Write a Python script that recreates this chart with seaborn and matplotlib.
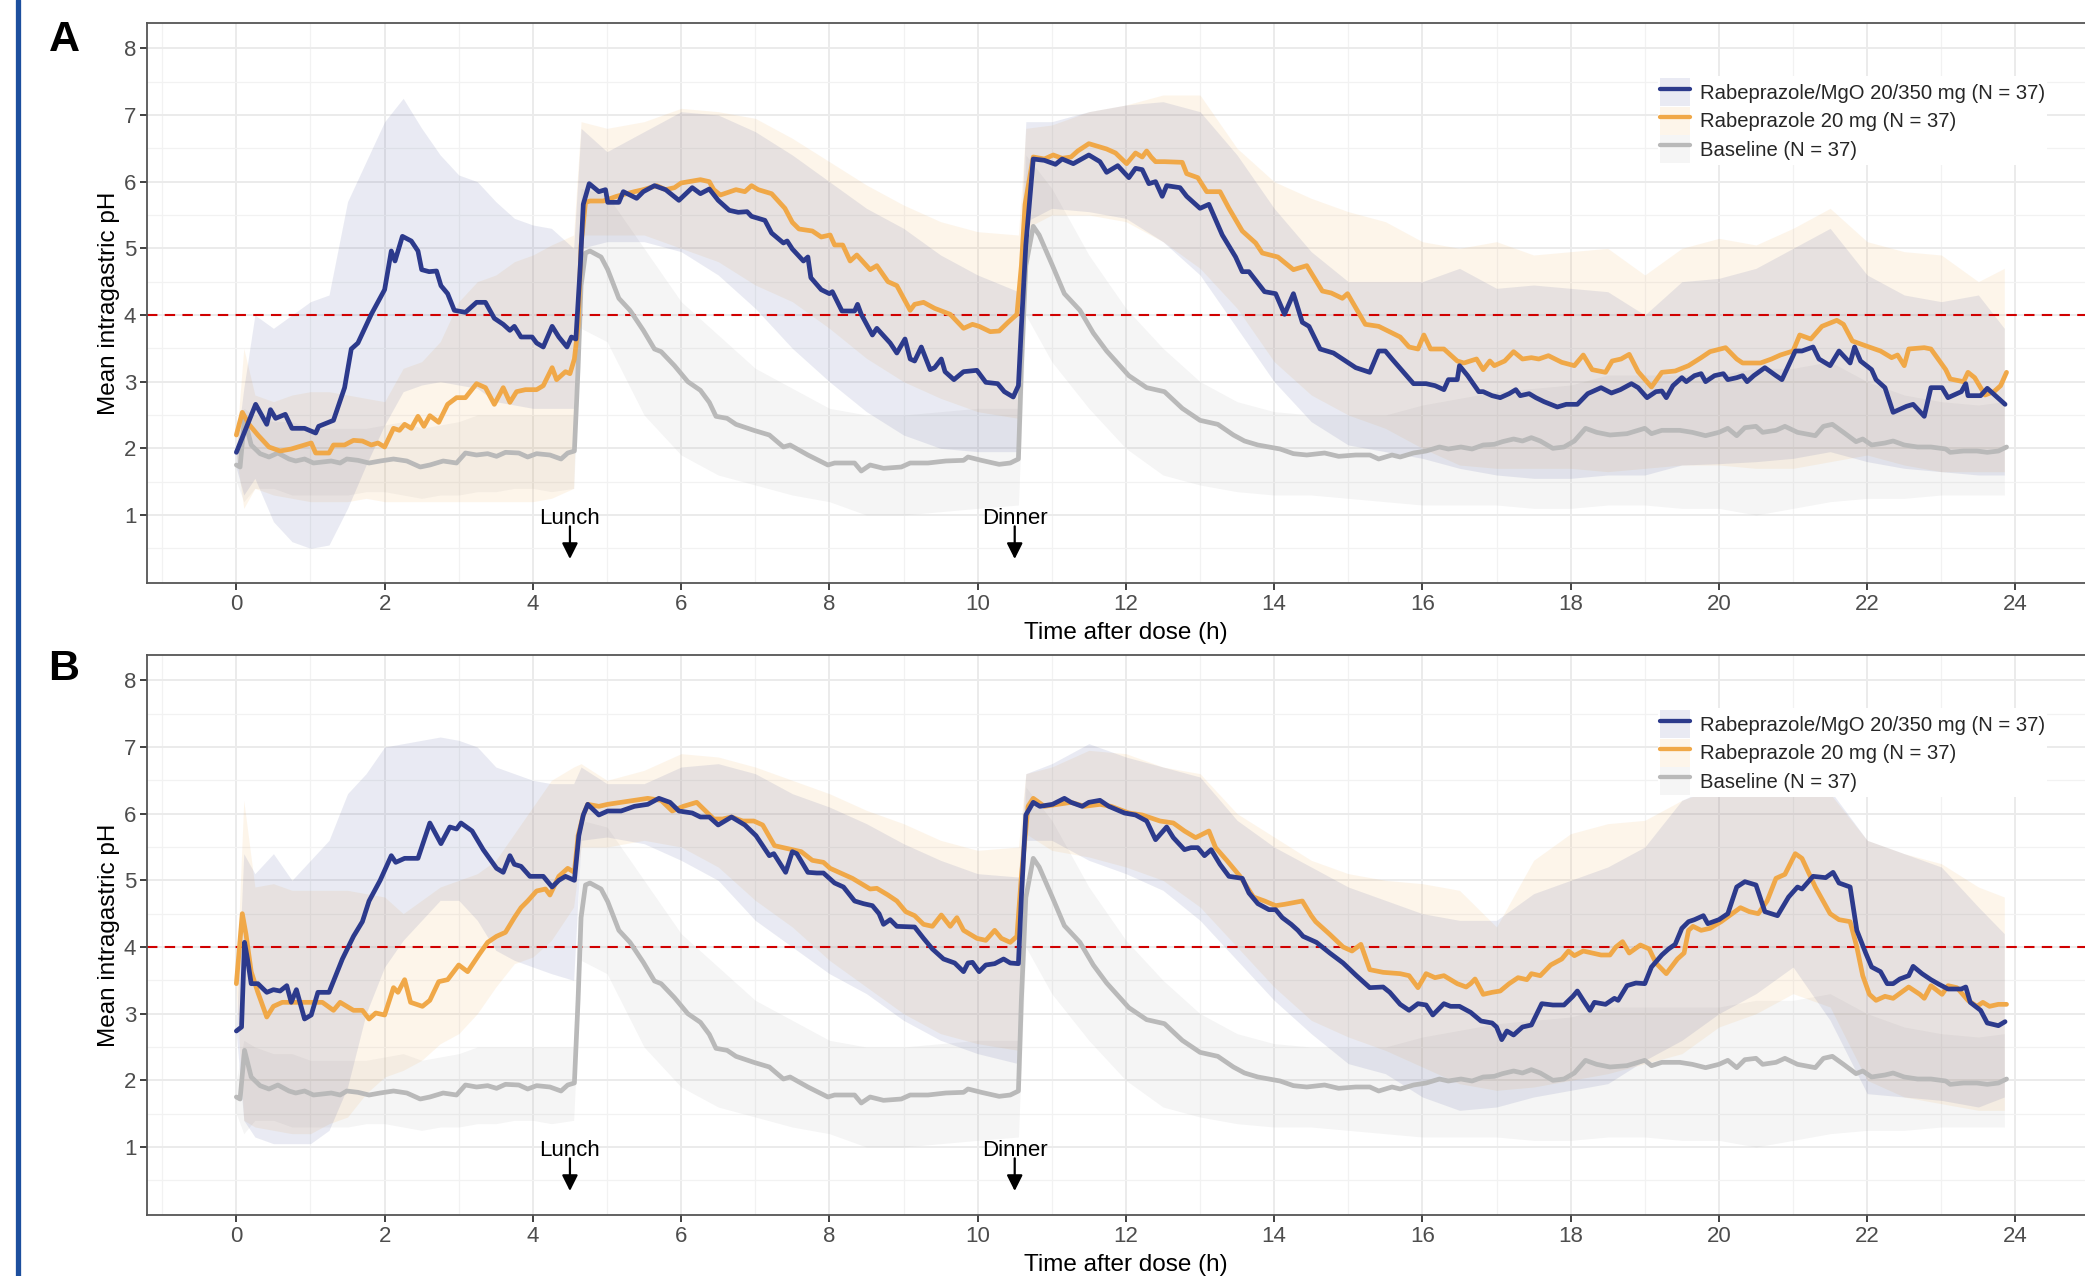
import numpy as np
import pandas as pd
import matplotlib
matplotlib.use('Agg')
import matplotlib.pyplot as plt
import seaborn as sns
from matplotlib.patches import Patch
from matplotlib.lines import Line2D
from matplotlib.legend_handler import HandlerTuple

# ---------------- data ----------------
# baseline curve is the same in both panels
base_t = [0, 0.05, 0.11, 0.20, 0.32, 0.44, 0.56, 0.71, 0.80, 0.92,
          1.04, 1.28, 1.40, 1.49, 1.64, 1.79, 1.94, 2.12, 2.30, 2.48,
          2.61, 2.79, 2.97, 3.09, 3.24, 3.39, 3.51, 3.63, 3.81, 3.93,
          4.05, 4.23, 4.38, 4.47, 4.56, 4.61, 4.65, 4.71, 4.77, 4.92,
          5.01, 5.16, 5.31, 5.49, 5.64, 5.73, 5.91, 6.09, 6.26, 6.38,
          6.47, 6.62, 6.74, 6.98, 7.19, 7.38, 7.47, 7.71, 7.98, 8.07,
          8.34, 8.43, 8.55, 8.73, 8.97, 9.09, 9.33, 9.57, 9.81, 9.87,
          10.05, 10.29, 10.44, 10.55, 10.59, 10.65, 10.75, 10.83, 11.01, 11.17,
          11.38, 11.56, 11.74, 12.04, 12.28, 12.52, 12.76, 13.00, 13.24, 13.45,
          13.60, 13.78, 14.08, 14.26, 14.44, 14.68, 14.87, 15.10, 15.29, 15.41,
          15.59, 15.70, 15.88, 16.05, 16.23, 16.35, 16.52, 16.67, 16.82, 16.97,
          17.08, 17.23, 17.35, 17.47, 17.59, 17.76, 17.91, 18.05, 18.20, 18.35,
          18.53, 18.76, 18.91, 19.00, 19.09, 19.23, 19.47, 19.64, 19.82, 20.00,
          20.12, 20.24, 20.35, 20.50, 20.59, 20.77, 20.89, 21.06, 21.30, 21.41,
          21.53, 21.68, 21.85, 21.94, 22.06, 22.24, 22.35, 22.50, 22.68, 22.86,
          23.06, 23.12, 23.30, 23.48, 23.62, 23.77, 23.88]
base_ph = [1.75, 1.72, 2.45, 2.05, 1.92, 1.87, 1.93, 1.84, 1.81, 1.84,
           1.78, 1.81, 1.78, 1.84, 1.82, 1.78, 1.81, 1.84, 1.81, 1.72,
           1.75, 1.81, 1.78, 1.93, 1.90, 1.92, 1.88, 1.94, 1.93, 1.87,
           1.92, 1.90, 1.84, 1.93, 1.96, 3.21, 4.44, 4.93, 4.96, 4.87,
           4.68, 4.25, 4.07, 3.77, 3.49, 3.45, 3.24, 3.00, 2.87, 2.69,
           2.48, 2.45, 2.36, 2.27, 2.20, 2.02, 2.05, 1.90, 1.75, 1.78,
           1.78, 1.66, 1.75, 1.70, 1.72, 1.78, 1.78, 1.81, 1.82, 1.87,
           1.82, 1.76, 1.78, 1.84, 3.21, 4.74, 5.33, 5.20, 4.74, 4.32,
           4.07, 3.73, 3.46, 3.09, 2.91, 2.85, 2.60, 2.42, 2.36, 2.20,
           2.11, 2.05, 1.99, 1.92, 1.90, 1.93, 1.88, 1.90, 1.90, 1.84,
           1.90, 1.87, 1.93, 1.96, 2.02, 1.99, 2.02, 1.99, 2.05, 2.06,
           2.10, 2.14, 2.11, 2.16, 2.11, 2.00, 2.02, 2.11, 2.30, 2.24,
           2.20, 2.22, 2.27, 2.30, 2.22, 2.27, 2.27, 2.24, 2.19, 2.24,
           2.30, 2.19, 2.31, 2.33, 2.24, 2.27, 2.33, 2.24, 2.19, 2.33,
           2.36, 2.24, 2.10, 2.14, 2.05, 2.08, 2.11, 2.05, 2.02, 2.02,
           1.99, 1.94, 1.96, 1.96, 1.94, 1.96, 2.02]

# panel A, Rabeprazole/MgO
a_mgo_t = [0, 0.26, 0.41, 0.46, 0.53, 0.66, 0.75, 0.92, 1.07, 1.11,
           1.31, 1.46, 1.55, 1.64, 1.82, 2.0, 2.09, 2.14, 2.24, 2.36,
           2.45, 2.5, 2.6, 2.7, 2.76, 2.85, 2.94, 3.09, 3.24, 3.36,
           3.48, 3.6, 3.69, 3.75, 3.84, 3.99, 4.05, 4.14, 4.26, 4.35,
           4.46, 4.52, 4.58, 4.64, 4.68, 4.76, 4.89, 4.98, 5.01, 5.16,
           5.22, 5.4, 5.49, 5.64, 5.79, 5.97, 6.15, 6.26, 6.38, 6.5,
           6.65, 6.77, 6.89, 6.95, 7.13, 7.22, 7.38, 7.43, 7.5, 7.65,
           7.71, 7.75, 7.89, 8.0, 8.04, 8.17, 8.34, 8.38, 8.43, 8.58,
           8.64, 8.82, 8.91, 9.02, 9.09, 9.15, 9.24, 9.36, 9.42, 9.51,
           9.56, 9.68, 9.81, 9.99, 10.11, 10.27, 10.36, 10.48, 10.55, 10.59,
           10.65, 10.75, 10.9, 11.05, 11.14, 11.29, 11.5, 11.65, 11.74, 11.89,
           12.04, 12.13, 12.22, 12.31, 12.4, 12.49, 12.55, 12.73, 12.82, 13.0,
           13.12, 13.3, 13.48, 13.57, 13.66, 13.87, 14.02, 14.14, 14.26, 14.38,
           14.47, 14.62, 14.8, 15.1, 15.29, 15.41, 15.5, 15.59, 15.7, 15.88,
           16.05, 16.17, 16.29, 16.35, 16.47, 16.5, 16.61, 16.76, 16.82, 16.94,
           17.05, 17.17, 17.26, 17.32, 17.44, 17.53, 17.64, 17.82, 17.94, 18.09,
           18.23, 18.41, 18.55, 18.67, 18.82, 18.91, 19.03, 19.15, 19.23, 19.29,
           19.38, 19.5, 19.56, 19.67, 19.76, 19.82, 19.94, 20.06, 20.12, 20.24,
           20.32, 20.38, 20.47, 20.62, 20.77, 20.85, 21.03, 21.12, 21.27, 21.35,
           21.5, 21.62, 21.77, 21.83, 21.91, 22.06, 22.12, 22.24, 22.35, 22.53,
           22.62, 22.77, 22.86, 23.01, 23.09, 23.27, 23.33, 23.36, 23.53, 23.62,
           23.86]
a_mgo_ph = [1.94, 2.66, 2.36, 2.58, 2.45, 2.51, 2.30, 2.30, 2.23, 2.33,
            2.42, 2.91, 3.49, 3.58, 4.01, 4.38, 4.96, 4.81, 5.18, 5.11,
            4.96, 4.68, 4.65, 4.66, 4.44, 4.32, 4.07, 4.04, 4.19, 4.19,
            3.95, 3.86, 3.77, 3.83, 3.67, 3.67, 3.58, 3.52, 3.83, 3.67,
            3.52, 3.67, 3.64, 4.74, 5.66, 5.97, 5.85, 5.88, 5.69, 5.69,
            5.85, 5.75, 5.85, 5.94, 5.88, 5.72, 5.91, 5.82, 5.89, 5.72,
            5.57, 5.54, 5.55, 5.48, 5.42, 5.23, 5.08, 5.11, 4.99, 4.81,
            4.87, 4.56, 4.38, 4.32, 4.35, 4.06, 4.06, 4.16, 4.01, 3.70,
            3.80, 3.58, 3.43, 3.64, 3.34, 3.31, 3.52, 3.18, 3.21, 3.34,
            3.15, 3.03, 3.15, 3.17, 2.99, 2.97, 2.85, 2.77, 2.94, 3.83,
            5.05, 6.34, 6.32, 6.26, 6.34, 6.27, 6.40, 6.30, 6.14, 6.24,
            6.06, 6.20, 6.18, 5.97, 6.00, 5.78, 5.94, 5.91, 5.78, 5.60,
            5.66, 5.20, 4.87, 4.65, 4.65, 4.35, 4.32, 4.01, 4.32, 3.89,
            3.83, 3.49, 3.43, 3.21, 3.14, 3.46, 3.46, 3.34, 3.20, 2.97,
            2.97, 2.94, 2.88, 3.03, 3.03, 3.24, 3.09, 2.85, 2.85, 2.79,
            2.76, 2.82, 2.88, 2.79, 2.82, 2.76, 2.70, 2.62, 2.66, 2.66,
            2.82, 2.91, 2.83, 2.88, 2.97, 2.91, 2.76, 2.85, 2.86, 2.76,
            2.94, 3.06, 3.00, 3.09, 3.12, 3.00, 3.09, 3.12, 3.03, 3.06,
            3.09, 3.00, 3.09, 3.21, 3.09, 3.03, 3.46, 3.46, 3.52, 3.34,
            3.24, 3.46, 3.28, 3.52, 3.31, 3.18, 3.03, 2.91, 2.54, 2.63,
            2.66, 2.48, 2.91, 2.91, 2.76, 2.85, 2.97, 2.79, 2.79, 2.90,
            2.66]

# panel A, Rabeprazole
a_rab_t = [0, 0.08, 0.17, 0.29, 0.44, 0.59, 0.74, 0.92, 1.01, 1.07,
           1.25, 1.31, 1.46, 1.58, 1.70, 1.82, 1.91, 2.00, 2.12, 2.20,
           2.27, 2.36, 2.45, 2.53, 2.61, 2.73, 2.85, 2.97, 3.09, 3.24,
           3.36, 3.48, 3.60, 3.69, 3.78, 3.90, 4.05, 4.14, 4.26, 4.32,
           4.44, 4.50, 4.56, 4.61, 4.65, 4.71, 4.77, 4.95, 5.13, 5.37,
           5.49, 5.67, 5.79, 5.91, 6.00, 6.26, 6.38, 6.44, 6.53, 6.74,
           6.86, 6.95, 7.04, 7.22, 7.40, 7.50, 7.59, 7.77, 7.89, 8.01,
           8.07, 8.18, 8.28, 8.37, 8.55, 8.64, 8.79, 8.91, 9.09, 9.15,
           9.27, 9.42, 9.63, 9.81, 9.93, 10.02, 10.17, 10.29, 10.41, 10.53,
           10.59, 10.64, 10.75, 10.90, 11.02, 11.14, 11.26, 11.35, 11.50, 11.65,
           11.74, 11.86, 12.01, 12.13, 12.22, 12.28, 12.34, 12.40, 12.52, 12.76,
           12.82, 12.97, 13.09, 13.27, 13.39, 13.57, 13.75, 13.84, 14.05, 14.26,
           14.44, 14.65, 14.77, 14.92, 14.99, 15.23, 15.41, 15.59, 15.70, 15.82,
           15.94, 16.02, 16.11, 16.29, 16.47, 16.56, 16.73, 16.82, 16.91, 16.97,
           17.11, 17.23, 17.35, 17.47, 17.57, 17.70, 17.88, 18.05, 18.17, 18.29,
           18.47, 18.56, 18.68, 18.79, 18.91, 19.09, 19.23, 19.41, 19.59, 19.76,
           19.88, 20.09, 20.24, 20.32, 20.56, 20.71, 20.83, 21.00, 21.09, 21.24,
           21.39, 21.59, 21.68, 21.80, 22.00, 22.18, 22.33, 22.41, 22.50, 22.56,
           22.77, 22.86, 23.06, 23.12, 23.30, 23.36, 23.45, 23.59, 23.71, 23.80,
           23.88]
a_rab_ph = [2.20, 2.54, 2.36, 2.20, 2.02, 1.96, 1.99, 2.05, 2.08, 1.93,
            1.93, 2.05, 2.05, 2.12, 2.11, 2.05, 2.08, 2.02, 2.30, 2.27,
            2.36, 2.30, 2.48, 2.33, 2.49, 2.39, 2.66, 2.76, 2.76, 2.97,
            2.91, 2.66, 2.91, 2.69, 2.85, 2.88, 2.88, 2.94, 3.21, 3.03,
            3.15, 3.12, 3.34, 3.83, 5.05, 5.69, 5.71, 5.71, 5.78, 5.85,
            5.88, 5.94, 5.88, 5.91, 5.98, 6.03, 6.00, 5.88, 5.80, 5.88,
            5.85, 5.94, 5.88, 5.82, 5.60, 5.39, 5.29, 5.26, 5.17, 5.20,
            5.05, 5.05, 4.81, 4.90, 4.68, 4.74, 4.50, 4.44, 4.07, 4.16,
            4.19, 4.10, 4.01, 3.80, 3.86, 3.83, 3.75, 3.76, 3.89, 4.01,
            4.74, 5.66, 6.37, 6.34, 6.40, 6.35, 6.37, 6.46, 6.57, 6.52,
            6.49, 6.43, 6.27, 6.43, 6.37, 6.46, 6.37, 6.30, 6.30, 6.29,
            6.12, 6.06, 5.85, 5.85, 5.60, 5.26, 5.08, 4.93, 4.87, 4.68,
            4.74, 4.36, 4.33, 4.25, 4.32, 3.86, 3.83, 3.73, 3.67, 3.52,
            3.49, 3.70, 3.49, 3.49, 3.31, 3.28, 3.34, 3.18, 3.31, 3.24,
            3.31, 3.45, 3.34, 3.36, 3.34, 3.39, 3.29, 3.24, 3.40, 3.18,
            3.14, 3.31, 3.34, 3.41, 3.15, 2.92, 3.14, 3.16, 3.24, 3.36,
            3.45, 3.51, 3.34, 3.28, 3.28, 3.34, 3.40, 3.46, 3.70, 3.64,
            3.83, 3.92, 3.86, 3.61, 3.53, 3.46, 3.36, 3.40, 3.24, 3.49,
            3.51, 3.49, 3.18, 3.04, 3.00, 3.14, 3.06, 2.80, 2.85, 2.94,
            3.14]

# panel B, Rabeprazole/MgO
b_mgo_t = [0, 0.07, 0.11, 0.15, 0.20, 0.29, 0.41, 0.50, 0.59, 0.68,
           0.74, 0.81, 0.92, 1.01, 1.10, 1.25, 1.34, 1.43, 1.58, 1.70,
           1.79, 1.94, 2.09, 2.15, 2.27, 2.45, 2.61, 2.76, 2.88, 2.97,
           3.03, 3.18, 3.33, 3.51, 3.60, 3.69, 3.75, 3.84, 3.96, 4.02,
           4.14, 4.26, 4.35, 4.44, 4.56, 4.62, 4.68, 4.74, 4.89, 5.01,
           5.19, 5.37, 5.55, 5.70, 5.85, 5.97, 6.15, 6.26, 6.38, 6.50,
           6.68, 6.86, 7.01, 7.19, 7.25, 7.41, 7.50, 7.56, 7.71, 7.83,
           7.92, 8.07, 8.19, 8.34, 8.46, 8.58, 8.67, 8.73, 8.82, 8.91,
           9.15, 9.27, 9.39, 9.54, 9.69, 9.81, 9.87, 9.93, 10.02, 10.11,
           10.23, 10.35, 10.44, 10.55, 10.59, 10.65, 10.75, 10.84, 11.01, 11.17,
           11.26, 11.41, 11.50, 11.65, 11.77, 11.98, 12.13, 12.28, 12.40, 12.55,
           12.64, 12.79, 12.88, 12.97, 13.06, 13.15, 13.27, 13.39, 13.57, 13.66,
           13.78, 13.93, 14.02, 14.11, 14.23, 14.32, 14.39, 14.57, 14.75, 14.93,
           15.11, 15.29, 15.47, 15.56, 15.70, 15.82, 15.94, 16.05, 16.14, 16.29,
           16.38, 16.50, 16.65, 16.79, 16.94, 17.00, 17.07, 17.14, 17.23, 17.35,
           17.47, 17.61, 17.76, 17.91, 18.03, 18.09, 18.17, 18.26, 18.32, 18.47,
           18.59, 18.64, 18.76, 18.88, 19.00, 19.09, 19.23, 19.32, 19.41, 19.50,
           19.59, 19.67, 19.79, 19.85, 20.00, 20.12, 20.24, 20.35, 20.50, 20.62,
           20.79, 20.94, 21.06, 21.12, 21.27, 21.44, 21.54, 21.62, 21.77, 21.86,
           21.98, 22.06, 22.18, 22.27, 22.35, 22.44, 22.56, 22.62, 22.74, 22.86,
           22.97, 23.09, 23.27, 23.33, 23.39, 23.53, 23.62, 23.77, 23.86]
b_mgo_ph = [2.74, 2.80, 4.07, 3.82, 3.45, 3.45, 3.32, 3.36, 3.34, 3.42,
            3.17, 3.36, 2.92, 2.98, 3.32, 3.32, 3.57, 3.82, 4.16, 4.38,
            4.69, 5.00, 5.37, 5.27, 5.33, 5.33, 5.86, 5.55, 5.80, 5.77,
            5.86, 5.74, 5.46, 5.18, 5.12, 5.37, 5.24, 5.21, 5.06, 5.06,
            5.06, 4.90, 5.00, 5.06, 5.00, 5.67, 5.98, 6.14, 5.98, 6.04,
            6.04, 6.11, 6.14, 6.23, 6.17, 6.04, 6.01, 5.95, 5.95, 5.83,
            5.95, 5.83, 5.67, 5.37, 5.40, 5.12, 5.43, 5.40, 5.12, 5.11,
            5.11, 4.96, 4.90, 4.69, 4.65, 4.62, 4.50, 4.34, 4.41, 4.31,
            4.30, 4.13, 3.97, 3.82, 3.76, 3.63, 3.76, 3.77, 3.63, 3.73,
            3.75, 3.82, 3.76, 3.75, 4.75, 5.98, 6.17, 6.11, 6.14, 6.23,
            6.17, 6.11, 6.17, 6.20, 6.11, 6.01, 5.98, 5.89, 5.61, 5.80,
            5.64, 5.46, 5.49, 5.49, 5.37, 5.46, 5.24, 5.06, 5.03, 4.81,
            4.65, 4.56, 4.56, 4.44, 4.34, 4.25, 4.16, 4.07, 3.91, 3.76,
            3.57, 3.39, 3.40, 3.32, 3.14, 3.05, 3.15, 3.13, 2.98, 3.15,
            3.11, 3.11, 3.02, 2.89, 2.86, 2.80, 2.61, 2.74, 2.68, 2.80,
            2.83, 3.15, 3.13, 3.13, 3.26, 3.34, 3.20, 3.05, 3.17, 3.14,
            3.23, 3.20, 3.42, 3.46, 3.45, 3.70, 3.88, 3.97, 4.04, 4.28,
            4.38, 4.41, 4.47, 4.35, 4.41, 4.50, 4.90, 4.98, 4.93, 4.53,
            4.47, 4.75, 4.90, 4.87, 5.06, 5.04, 5.12, 4.96, 4.90, 4.25,
            3.91, 3.70, 3.63, 3.45, 3.45, 3.52, 3.57, 3.71, 3.60, 3.51,
            3.44, 3.37, 3.37, 3.40, 3.17, 3.05, 2.86, 2.82, 2.88]

# panel B, Rabeprazole
b_rab_t = [0, 0.08, 0.13, 0.20, 0.29, 0.41, 0.50, 0.62, 0.80, 0.98,
           1.16, 1.31, 1.40, 1.58, 1.70, 1.79, 1.88, 2.00, 2.12, 2.18,
           2.27, 2.35, 2.51, 2.61, 2.73, 2.85, 3.00, 3.12, 3.27, 3.39,
           3.51, 3.63, 3.75, 3.84, 3.93, 4.05, 4.17, 4.23, 4.35, 4.47,
           4.56, 4.61, 4.68, 4.74, 4.89, 5.01, 5.19, 5.37, 5.55, 5.73,
           5.88, 6.03, 6.21, 6.44, 6.56, 6.68, 6.83, 6.98, 7.10, 7.26,
           7.50, 7.62, 7.77, 7.92, 8.01, 8.13, 8.31, 8.46, 8.55, 8.64,
           8.79, 8.91, 9.03, 9.15, 9.27, 9.39, 9.51, 9.63, 9.72, 9.81,
           9.99, 10.11, 10.23, 10.32, 10.44, 10.53, 10.59, 10.68, 10.75, 10.90,
           11.08, 11.26, 11.44, 11.65, 11.80, 12.04, 12.22, 12.46, 12.64, 12.79,
           12.94, 13.12, 13.21, 13.36, 13.54, 13.72, 13.87, 14.02, 14.14, 14.38,
           14.50, 14.56, 14.75, 14.93, 15.05, 15.17, 15.29, 15.47, 15.70, 15.82,
           15.94, 16.05, 16.17, 16.29, 16.47, 16.59, 16.65, 16.71, 16.82, 16.94,
           17.05, 17.17, 17.29, 17.41, 17.47, 17.59, 17.73, 17.88, 17.97, 18.05,
           18.17, 18.29, 18.41, 18.53, 18.61, 18.70, 18.79, 18.94, 19.06, 19.15,
           19.29, 19.44, 19.53, 19.59, 19.65, 19.76, 19.88, 20.03, 20.18, 20.29,
           20.41, 20.53, 20.65, 20.77, 20.89, 21.03, 21.12, 21.30, 21.50, 21.62,
           21.77, 21.86, 21.94, 22.03, 22.12, 22.24, 22.35, 22.56, 22.71, 22.77,
           22.86, 23.01, 23.09, 23.21, 23.36, 23.48, 23.56, 23.65, 23.77, 23.88]
b_rab_ph = [3.45, 4.50, 4.19, 3.63, 3.32, 2.95, 3.11, 3.17, 3.17, 3.17,
            3.17, 3.05, 3.17, 3.05, 3.05, 2.92, 3.01, 2.98, 3.39, 3.32,
            3.51, 3.17, 3.11, 3.20, 3.48, 3.51, 3.73, 3.63, 3.88, 4.07,
            4.16, 4.22, 4.44, 4.59, 4.69, 4.84, 4.87, 4.78, 5.06, 5.18,
            5.12, 5.67, 5.98, 6.14, 6.11, 6.14, 6.17, 6.20, 6.23, 6.20,
            6.04, 6.11, 6.17, 5.92, 5.92, 5.95, 5.89, 5.89, 5.83, 5.52,
            5.46, 5.43, 5.30, 5.27, 5.18, 5.12, 5.03, 4.93, 4.87, 4.88,
            4.78, 4.69, 4.53, 4.47, 4.34, 4.31, 4.48, 4.31, 4.44, 4.25,
            4.13, 4.10, 4.25, 4.13, 4.07, 4.16, 5.06, 6.11, 6.23, 6.11,
            6.14, 6.17, 6.11, 6.14, 6.11, 6.01, 5.98, 5.89, 5.86, 5.74,
            5.64, 5.74, 5.49, 5.30, 5.06, 4.75, 4.69, 4.62, 4.64, 4.69,
            4.47, 4.38, 4.19, 4.00, 3.94, 4.04, 3.66, 3.62, 3.60, 3.57,
            3.39, 3.60, 3.54, 3.57, 3.45, 3.40, 3.45, 3.52, 3.29, 3.32,
            3.34, 3.45, 3.54, 3.51, 3.60, 3.57, 3.73, 3.82, 3.94, 3.87,
            3.94, 3.91, 3.88, 3.88, 4.00, 4.08, 3.91, 4.03, 3.97, 3.76,
            3.60, 3.82, 3.91, 4.25, 4.31, 4.25, 4.28, 4.38, 4.50, 4.59,
            4.53, 4.50, 4.69, 5.03, 5.09, 5.40, 5.33, 4.90, 4.50, 4.41,
            4.38, 4.00, 3.57, 3.29, 3.20, 3.26, 3.23, 3.40, 3.29, 3.23,
            3.42, 3.29, 3.42, 3.39, 3.20, 3.11, 3.17, 3.11, 3.14, 3.14]

# ribbons (variability bands), all on one time grid
band_t = [0, 0.1, 0.25, 0.5, 0.75, 1.0, 1.25, 1.5, 1.75, 2.0,
          2.25, 2.5, 2.75, 3.0, 3.25, 3.5, 3.75, 4.0, 4.25, 4.55,
          4.65, 5.0, 5.5, 6.0, 6.5, 7.0, 7.5, 8.0, 8.5, 9.0,
          9.5, 10.0, 10.55, 10.65, 11.0, 11.5, 12.0, 12.5, 13.0, 13.5,
          14.0, 14.5, 15.0, 15.5, 16.0, 16.5, 17.0, 17.5, 18.0, 18.5,
          19.0, 19.5, 20.0, 20.5, 21.0, 21.5, 22.0, 22.5, 23.0, 23.5,
          23.85]

base_lo = [1.5, 1.2, 1.4, 1.4, 1.3, 1.3, 1.3, 1.3, 1.35, 1.35,
           1.3, 1.25, 1.3, 1.3, 1.35, 1.35, 1.4, 1.4, 1.35, 1.4,
           3.8, 3.6, 2.5, 1.9, 1.6, 1.45, 1.3, 1.2, 1.0, 1.0,
           1.05, 1.1, 1.15, 4.0, 3.3, 2.6, 2.0, 1.6, 1.45, 1.35,
           1.3, 1.3, 1.25, 1.2, 1.15, 1.15, 1.15, 1.1, 1.1, 1.15,
           1.15, 1.1, 1.1, 1.0, 1.1, 1.2, 1.25, 1.25, 1.3, 1.3,
           1.3]
base_hi = [2.0, 2.6, 2.5, 2.4, 2.4, 2.3, 2.3, 2.3, 2.3, 2.35,
           2.4, 2.3, 2.35, 2.4, 2.5, 2.5, 2.5, 2.5, 2.5, 2.5,
           5.9, 5.8, 5.0, 4.2, 3.7, 3.2, 2.9, 2.6, 2.5, 2.5,
           2.55, 2.6, 2.6, 6.4, 5.9, 4.9, 4.1, 3.5, 3.0, 2.7,
           2.55, 2.5, 2.5, 2.5, 2.65, 2.75, 2.85, 2.9, 2.95, 3.1,
           3.1, 3.1, 3.1, 3.2, 3.2, 3.3, 3.0, 2.8, 2.7, 2.65,
           2.7]

a_mgo_lo = [1.7, 1.3, 1.55, 0.9, 0.6, 0.5, 0.55, 1.1, 1.75, 2.35,
            2.85, 2.95, 3.0, 2.95, 2.9, 2.7, 2.65, 2.6, 2.6, 2.6,
            5.0, 5.1, 5.1, 4.95, 4.6, 4.1, 3.5, 3.0, 2.55, 2.2,
            2.0, 1.95, 1.95, 5.4, 5.6, 5.55, 5.45, 5.1, 4.6, 3.8,
            3.0, 2.4, 2.05, 1.95, 1.85, 1.7, 1.6, 1.55, 1.55, 1.6,
            1.6, 1.75, 1.77, 1.8, 1.85, 1.95, 1.8, 1.7, 1.65, 1.6,
            1.6]
a_mgo_hi = [2.0, 2.9, 4.0, 3.8, 4.0, 4.2, 4.3, 5.7, 6.3, 6.9,
            7.25, 6.8, 6.4, 6.1, 6.0, 5.7, 5.45, 5.35, 5.3, 5.0,
            6.8, 6.45, 6.75, 7.05, 7.0, 6.75, 6.4, 6.0, 5.6, 5.3,
            4.9, 4.6, 4.35, 6.9, 6.9, 7.05, 7.15, 7.2, 7.05, 6.4,
            5.6, 4.95, 4.5, 4.5, 4.5, 4.7, 4.4, 4.45, 4.4, 4.35,
            4.0, 4.5, 4.55, 4.7, 5.0, 5.3, 4.6, 4.3, 4.2, 4.3,
            3.8]
a_rab_lo = [1.9, 1.1, 1.4, 1.3, 1.25, 1.2, 1.2, 1.2, 1.25, 1.2,
            1.2, 1.2, 1.2, 1.2, 1.2, 1.2, 1.2, 1.2, 1.25, 1.4,
            5.2, 5.2, 5.2, 5.0, 4.8, 4.45, 4.2, 3.8, 3.35, 3.0,
            2.75, 2.55, 2.45, 5.3, 5.5, 5.5, 5.4, 5.1, 4.7, 4.1,
            3.3, 2.8, 2.5, 2.3, 2.0, 1.75, 1.7, 1.7, 1.7, 1.65,
            1.7, 1.75, 1.75, 1.7, 1.7, 1.8, 1.9, 1.75, 1.65, 1.65,
            1.65]
a_rab_hi = [2.1, 3.5, 2.8, 2.7, 2.8, 2.85, 2.85, 2.8, 2.75, 2.7,
            3.2, 3.3, 3.6, 4.2, 4.5, 4.6, 4.8, 4.9, 5.05, 5.2,
            6.9, 6.8, 6.9, 7.1, 7.05, 6.95, 6.65, 6.3, 5.95, 5.65,
            5.4, 5.25, 5.2, 6.8, 6.85, 7.05, 7.15, 7.3, 7.3, 6.5,
            6.0, 5.75, 5.55, 5.4, 5.1, 5.0, 5.1, 4.9, 4.95, 5.0,
            4.6, 5.0, 5.15, 5.05, 5.3, 5.6, 5.1, 4.95, 4.9, 4.5,
            4.7]

b_mgo_lo = [2.7, 1.4, 1.15, 1.05, 1.05, 1.05, 1.25, 1.9, 3.0, 3.7,
            4.1, 4.4, 4.7, 4.7, 4.4, 3.95, 3.8, 3.7, 3.6, 3.5,
            5.6, 5.65, 5.55, 5.3, 5.0, 4.4, 4.0, 3.6, 3.3, 2.9,
            2.6, 2.4, 2.25, 5.6, 5.6, 5.3, 5.1, 4.85, 4.4, 3.8,
            3.2, 2.7, 2.25, 2.1, 1.75, 1.55, 1.6, 1.75, 1.85, 1.95,
            2.3, 2.6, 3.0, 3.3, 3.7, 2.9, 1.8, 1.75, 1.7, 1.6,
            1.75]
b_mgo_hi = [2.8, 5.4, 5.1, 5.4, 5.0, 5.3, 5.6, 6.3, 6.6, 7.0,
            7.05, 7.1, 7.15, 7.1, 7.0, 6.7, 6.6, 6.5, 6.45, 6.45,
            6.7, 6.45, 6.45, 6.7, 6.75, 6.6, 6.3, 6.1, 5.85, 5.55,
            5.3, 5.1, 5.05, 6.6, 6.75, 7.05, 6.85, 6.7, 6.55, 5.9,
            5.5, 5.2, 4.9, 4.7, 4.5, 4.4, 4.4, 4.8, 5.0, 5.2,
            5.5, 6.2, 6.45, 6.35, 6.4, 6.35, 5.6, 5.4, 5.2, 4.6,
            4.2]
b_rab_lo = [3.3, 1.4, 1.3, 1.25, 1.2, 1.2, 1.35, 1.45, 1.8, 2.05,
            2.15, 2.3, 2.55, 2.7, 3.0, 3.4, 3.75, 3.85, 4.1, 4.6,
            5.5, 5.5, 5.6, 5.5, 5.2, 4.7, 4.3, 3.8, 3.4, 3.0,
            2.7, 2.55, 2.45, 5.7, 5.45, 5.35, 5.2, 5.0, 4.6, 4.0,
            3.4, 2.9, 2.65, 2.45, 2.2, 1.95, 1.85, 1.9, 2.0, 2.1,
            2.25, 2.4, 2.8, 3.0, 3.3, 3.1, 2.0, 1.75, 1.65, 1.55,
            1.55]
b_rab_hi = [3.5, 6.2, 4.9, 4.95, 4.85, 4.85, 4.85, 4.85, 4.8, 4.75,
            4.5, 4.7, 4.9, 5.0, 5.1, 5.3, 5.7, 6.1, 6.5, 6.7,
            6.75, 6.5, 6.65, 6.9, 6.85, 6.7, 6.5, 6.3, 6.05, 5.85,
            5.6, 5.45, 5.5, 6.6, 6.7, 6.95, 6.9, 6.7, 6.6, 6.0,
            5.65, 5.3, 5.1, 5.0, 4.95, 4.85, 4.3, 5.3, 5.7, 5.85,
            5.9, 6.2, 6.4, 6.35, 6.4, 6.3, 5.6, 5.4, 5.25, 4.9,
            4.75]

groups = ['Rabeprazole/MgO 20/350 mg (N = 37)', 'Rabeprazole 20 mg (N = 37)', 'Baseline (N = 37)']
colors = {groups[0]: '#2c3a8c', groups[1]: '#f0a848', groups[2]: '#b9b9b9'}
band_alpha = {groups[0]: 0.1, groups[1]: 0.11, groups[2]: 0.14}
meals = ['Lunch', 'Dinner']
meal_times = [4.5, 10.5]

# ---------------- style ----------------
sns.set_theme(style='whitegrid')
plt.rcParams['font.family'] = ['Liberation Sans', 'DejaVu Sans']

fig = plt.figure(figsize=(20.85, 12.76), dpi=100)
fig.patch.set_facecolor('white')
ax_a = fig.add_axes([0.0707, 1 - 583 / 1276, 0.9386, 560 / 1276])
ax_b = fig.add_axes([0.0707, 1 - 1215 / 1276, 0.9386, 560 / 1276])


def draw_panel(ax, mgo_t, mgo_ph, rab_t, rab_ph, mgo_lo, mgo_hi, rab_lo, rab_hi):
    ax.set_facecolor('white')
    # ribbons
    ax.fill_between(band_t, base_lo, base_hi, color=colors[groups[2]], alpha=band_alpha[groups[2]], lw=0, zorder=1)
    ax.fill_between(band_t, rab_lo, rab_hi, color=colors[groups[1]], alpha=band_alpha[groups[1]], lw=0, zorder=1)
    ax.fill_between(band_t, mgo_lo, mgo_hi, color=colors[groups[0]], alpha=band_alpha[groups[0]], lw=0, zorder=1)

    ax.axhline(4, color='#d00000', lw=1.5, ls=(0, (5, 3.5)), zorder=2)

    # mean lines
    df = pd.concat([
        pd.DataFrame({'time': base_t, 'ph': base_ph, 'group': groups[2]}),
        pd.DataFrame({'time': rab_t, 'ph': rab_ph, 'group': groups[1]}),
        pd.DataFrame({'time': mgo_t, 'ph': mgo_ph, 'group': groups[0]}),
    ], ignore_index=True)
    sns.lineplot(data=df, x='time', y='ph', hue='group', hue_order=groups[::-1],
                 palette=colors, estimator=None, sort=False, linewidth=3.4,
                 legend=False, ax=ax, zorder=3)

    # meal markers
    for name, t in zip(meals, meal_times):
        ax.text(t, 0.86, name, ha='center', va='baseline', fontsize=16, color='black')
        ax.annotate('', xy=(t, 0.34), xytext=(t, 0.83),
                    arrowprops=dict(arrowstyle='-|>,head_length=0.5,head_width=0.25',
                                    color='black', lw=1.6, mutation_scale=19, shrinkA=0, shrinkB=0))

    ax.set_xlim(-1.2, 25.2)
    ax.set_ylim(-0.02, 8.38)
    ax.set_xticks(range(0, 25, 2))
    ax.set_xticks(range(-1, 26, 2), minor=True)
    ax.set_yticks(range(1, 9))
    ax.set_yticks(np.arange(0.5, 8.5, 1.0), minor=True)
    ax.grid(which='major', color='#ebebeb', lw=1.4)
    ax.grid(which='minor', color='#f2f2f2', lw=0.9)
    ax.set_axisbelow(True)
    ax.tick_params(axis='both', which='major', length=5, width=1.3, color='#333333',
                   labelsize=16, labelcolor='#4d4d4d', pad=3, direction='out',
                   bottom=True, left=True)
    ax.tick_params(axis='both', which='minor', length=0)
    for s in ax.spines.values():
        s.set_color('#555555')
        s.set_linewidth(1.3)
    ax.set_xlabel('Time after dose (h)', fontsize=17.5, color='black', labelpad=5)
    ax.set_ylabel('Mean intragastric pH', fontsize=17.5, color='black', labelpad=3)

    handles = [(Patch(facecolor=colors[g], alpha=band_alpha[g], edgecolor='none'),
                Line2D([], [], color=colors[g], lw=3.1)) for g in groups]
    leg = ax.legend(handles, groups, handler_map={tuple: HandlerTuple(ndivide=1, pad=0)},
                    loc='upper left', bbox_to_anchor=(0.772, 0.905), frameon=True,
                    facecolor='white', edgecolor='none', framealpha=1, fontsize=14.6,
                    handlelength=1.45, handleheight=1.75, labelspacing=0.02,
                    handletextpad=0.5, borderpad=0.1, borderaxespad=0)
    leg.set_zorder(5)


draw_panel(ax_a, a_mgo_t, a_mgo_ph, a_rab_t, a_rab_ph, a_mgo_lo, a_mgo_hi, a_rab_lo, a_rab_hi)
draw_panel(ax_b, b_mgo_t, b_mgo_ph, b_rab_t, b_rab_ph, b_mgo_lo, b_mgo_hi, b_rab_lo, b_rab_hi)

# panel letters and left bar
fig.text(64 / 2085, 1 - 40 / 1276, 'A', fontsize=31, fontweight='bold', color='black', ha='center', va='center')
fig.text(64 / 2085, 1 - 669 / 1276, 'B', fontsize=31, fontweight='bold', color='black', ha='center', va='center')
fig.add_artist(Line2D([18 / 2085, 18 / 2085], [0, 1], transform=fig.transFigure,
                      color='#1d4f9e', lw=3.8))

fig.savefig('out.png', dpi=100)
